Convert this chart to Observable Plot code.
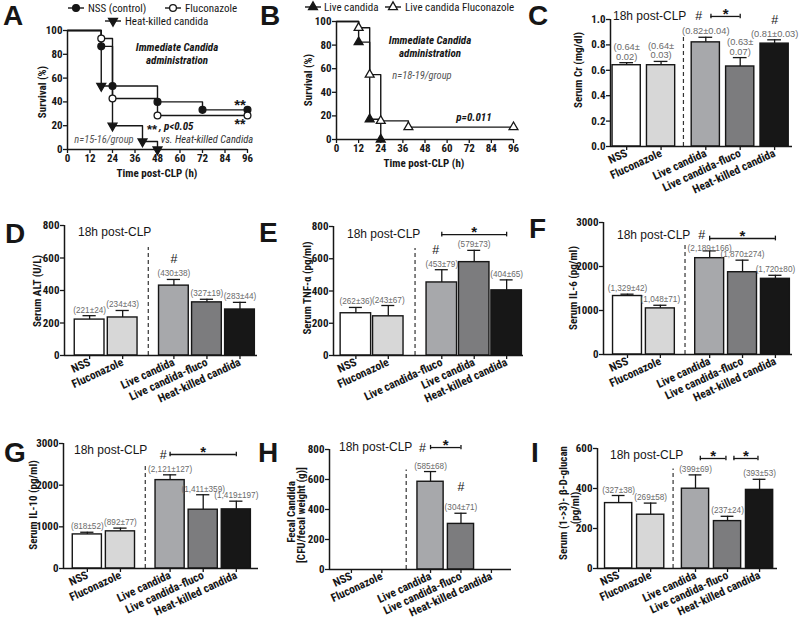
<!DOCTYPE html>
<html><head><meta charset="utf-8">
<script src="https://cdn.jsdelivr.net/npm/d3@7"></script>
<script src="https://cdn.jsdelivr.net/npm/@observablehq/plot@0.6"></script>
<style>
body{margin:0;background:#fff;}
#fig{position:relative;width:800px;height:628px;overflow:hidden;background:#fff;}
</style></head><body><div id="fig"></div><script>
// ================= DATA =================
// Kaplan-Meier panels
const kmTimeTicks = [0, 12, 24, 36, 48, 60, 72, 84, 96];
const kmSurvTicks = [0, 20, 40, 60, 80, 100];
const aSeries = ["NSS (control)", "Fluconazole", "Heat-killed candida"];
const aNssTime = [0, 18, 24, 48, 72, 96];
const aNssSurv = [100, 86.7, 53.3, 40, 33.3, 33.3];
const aFluTime = [0, 18, 24, 48, 96];
const aFluSurv = [100, 93.3, 42.9, 28.6, 28.6];
const aHkTime = [0, 18, 24, 40, 48];
const aHkSurv = [100, 53.3, 20, 6.7, 0];
const bSeries = ["Live candida", "Live candida Fluconazole"];
const bLiveTime = [0, 12, 18, 24];
const bLiveSurv = [100, 82.5, 17.2, 0];
const bFluTime = [0, 12, 18, 24, 39, 96];
const bFluSurv = [100, 94.7, 55, 15.8, 10.5, 10.5];

// Bar panels (mean, SEM)
const groups = ["NSS", "Fluconazole", "Live candida", "Live candida-fluco", "Heat-killed candida"];
const groupsE = ["NSS", "Fluconazole", "Live candida-fluco", "Live candida", "Heat-killed candida"];
const crMean = [0.64, 0.64, 0.82, 0.63, 0.81];
const crSem = [0.02, 0.03, 0.04, 0.07, 0.03];
const altMean = [221, 234, 430, 327, 283];
const altSem = [24, 43, 38, 19, 44];
const tnfMean = [262, 243, 453, 579, 404];
const tnfSem = [36, 67, 79, 73, 65];
const il6Mean = [1329, 1048, 2189, 1870, 1720];
const il6Sem = [42, 71, 166, 274, 80];
const il10Mean = [818, 892, 2121, 1411, 1419];
const il10Sem = [52, 77, 127, 359, 197];
const fecalMean = [0, 0, 585, 304, 0];
const fecalSem = [0, 0, 68, 71, 0];
const glucanMean = [327, 269, 399, 237, 393];
const glucanSem = [38, 58, 69, 24, 53];
const crTicks = [0, 0.2, 0.4, 0.6, 0.8, 1.0];
const t800 = [0, 200, 400, 600, 800];
const t3000 = [0, 1000, 2000, 3000];
const t600 = [0, 200, 400, 600];

// ================= STYLE =================
const FP = "'Roboto Condensed', 'Liberation Sans', sans-serif";
const FA = "'Liberation Sans', Arial, sans-serif";
const INK = "#161616";
const barFills = ["#ffffff", "#d7d7d7", "#a7a8ab", "#7c7c7e", "#171717"];
const s3 = Math.sqrt(3);
const triDown = {draw(ctx, size) { const y = -Math.sqrt(size / (s3 * 3)); ctx.moveTo(0, -2 * y); ctx.lineTo(-s3 * y, y); ctx.lineTo(s3 * y, y); ctx.closePath(); }};
const baseStyle = {fontFamily: FP, fontSize: "11px", fontWeight: "bold", color: INK, overflow: "visible", background: "transparent"};
const fig = document.getElementById("fig");
function place(svg, left, top) {
  svg.style.position = "absolute"; svg.style.left = left + "px"; svg.style.top = top + "px";
  fig.appendChild(svg);
}

// ================= KM PANELS =================
function kmPanel(c) {
  const rows = c.series.flatMap(s => s.time.map((t, i) => ({g: s.name, t, s: s.surv[i]})));
  const marks = [
    Plot.line(rows, {x: "t", y: "s", z: "g", curve: "step-after", stroke: INK, strokeWidth: 1.4}),
    ...c.series.map(s => Plot.dot(rows.filter(d => d.g === s.name && d.t > 0),
      {x: "t", y: "s", symbol: s.symbol, r: s.r, fill: s.fill, stroke: INK, strokeWidth: 1.3})),
    Plot.ruleX([0], {stroke: INK, strokeWidth: 1.5}),
    Plot.ruleY([0], {stroke: INK, strokeWidth: 1.5}),
    Plot.axisX({ticks: kmTimeTicks, tickFormat: d => String(d), tickSize: 4, tickPadding: 1, label: null, strokeWidth: 1.3, fontSize: 11}),
    Plot.axisY({ticks: kmSurvTicks, tickFormat: d => String(d), tickSize: 4, tickPadding: 1, label: null, strokeWidth: 1.3, fontSize: 11})
  ];
  const svg = Plot.plot({width: c.w, height: c.h, marginLeft: c.mL, marginRight: c.mR, marginTop: c.mT, marginBottom: c.mB,
    x: {domain: [0, 96]}, y: {domain: [0, 100]}, style: baseStyle, marks});
  place(svg, c.left, c.top);
}
kmPanel({left: 0, top: 0, w: 265, h: 200, mL: 67, mR: 18, mT: 30, mB: 51, series: [
  {name: aSeries[0], time: aNssTime, surv: aNssSurv, symbol: "circle", r: 3.4, fill: INK},
  {name: aSeries[1], time: aFluTime, surv: aFluSurv, symbol: "circle", r: 3.4, fill: "white"},
  {name: aSeries[2], time: aHkTime, surv: aHkSurv, symbol: triDown, r: 3.3, fill: INK}]});
kmPanel({left: 265, top: 0, w: 265, h: 200, mL: 71, mR: 17, mT: 21, mB: 61, series: [
  {name: bSeries[0], time: bLiveTime, surv: bLiveSurv, symbol: "triangle", r: 3.3, fill: INK},
  {name: bSeries[1], time: bFluTime, surv: bFluSurv, symbol: "triangle", r: 3.3, fill: "white"}]});

// ================= BAR PANELS =================
function barPanel(c) {
  const gap = c.gap, pos = c.cats.map((_, i) => i + (i >= 2 ? gap : 0));
  const lo = -c.padL, hi = 4 + gap + c.padR, half = c.bw / 2, cap = 0.2;
  const f = d3.format(c.fmt || ",");
  const rows = c.cats.map((cat, i) => {
    const a = f(c.mean[i]), b = f(c.sem[i]);
    const lab = (c.wrap || []).includes(i) ? `(${a}±\n${b})` : `(${a}±${b})`;
    return {cat, i, x: pos[i], v: c.mean[i], e: c.sem[i], top: c.mean[i] + c.sem[i], lab};
  });
  const shown = rows.filter(d => d.v > 0);
  const nameAt = new Map(pos.map((p, i) => [p, c.cats[i]]));
  const tk = c.ymax * 0.018;
  const labDy = c.labDy || [];
  const marks = [
    Plot.ruleX([(pos[1] + pos[2]) / 2], {y1: 0, y2: c.ymax * (c.dash || 0.83), stroke: "#333", strokeWidth: 1.2, strokeDasharray: "4,3"}),
    Plot.ruleX(shown, {x: "x", y1: "v", y2: "top", stroke: INK, strokeWidth: 1.3}),
    Plot.ruleY(shown, {y: "top", x1: d => d.x - cap, x2: d => d.x + cap, stroke: INK, strokeWidth: 1.3}),
    Plot.rectY(shown, {x1: d => d.x - half, x2: d => d.x + half, y1: 0, y2: "v", fill: d => barFills[d.i], stroke: INK, strokeWidth: 1.4}),
    Plot.text(shown, {x: "x", y: d => d.top, text: "lab", dy: -3, lineAnchor: "bottom", fontFamily: FA, fontWeight: "normal", fontSize: c.labSize || 8.2, fill: "#6a6a6a",
      filter: d => !labDy.includes(d.i)}),
    Plot.text(shown, {x: "x", y: d => d.top, text: "lab", dy: 0, lineAnchor: "bottom", fontFamily: FA, fontWeight: "normal", fontSize: c.labSize || 8.2, fill: "#6a6a6a",
      filter: d => labDy.includes(d.i)}),
    Plot.ruleX([lo], {stroke: INK, strokeWidth: 1.5}),
    Plot.ruleY([0], {stroke: INK, strokeWidth: 1.5}),
    Plot.axisY({ticks: c.ticks, tickFormat: c.tfmt ? d3.format(c.tfmt) : d => String(d), tickSize: 4, tickPadding: 1, label: null, strokeWidth: 1.3, fontSize: 11}),
    Plot.axisX({ticks: pos, tickFormat: d => nameAt.get(d), tickRotate: -25, tickSize: 4, tickPadding: 2, label: null, strokeWidth: 1.3, fontSize: 11.5})
  ];
  for (const s of c.sig || []) {
    if (s.type === "bracket") {
      const x1 = pos[s.a] + (s.ia || 0), x2 = pos[s.b] - (s.ib || 0);
      marks.push(
        Plot.ruleY([s.y], {x1, x2, stroke: INK, strokeWidth: 1.3}),
        Plot.ruleX([x1, x2], {x: d => d, y1: s.y - tk, y2: s.y + tk, stroke: INK, strokeWidth: 1.3}),
        Plot.text(["*"], {x: (x1 + x2) / 2, y: s.y, text: d => d, dy: -2, lineAnchor: "middle", fontFamily: FA, fontWeight: "bold", fontSize: 15, fill: INK}));
    } else if (s.type === "hash") {
      marks.push(Plot.text(["#"], {x: pos[s.at], y: s.y, text: d => d, dx: s.dx || 0, dy: s.hdy || 0, lineAnchor: "middle", fontFamily: FA, fontWeight: "normal", fontSize: 12.5, fill: INK}));
    } else if (s.type === "hashAbove") {
      marks.push(Plot.text([rows[s.at]], {x: "x", y: "top", text: () => "#", dx: s.dx || 0, dy: s.dy || -16, lineAnchor: "bottom", fontFamily: FA, fontWeight: "normal", fontSize: 12.5, fill: INK}));
    }
  }
  const svg = Plot.plot({width: c.w, height: c.h, marginLeft: c.mL, marginRight: c.mR, marginTop: c.mT, marginBottom: c.mB,
    x: {domain: [lo, hi]}, y: {domain: [0, c.ymax]}, color: {type: "identity"}, style: baseStyle, marks});
  place(svg, c.left, c.top);
}

barPanel({left: 530, top: 0, w: 270, h: 200, mL: 80, mR: 8, mT: 19, mB: 54, gap: 0.3, padL: 0.47, padR: 0.52, bw: 0.82,
  cats: groups, mean: crMean, sem: crSem, ymax: 1, ticks: crTicks, tfmt: ".1f", fmt: ".2f", wrap: [0, 1, 3], labSize: 9.3, dash: 0.87,
  sig: [{type: "bracket", a: 2, b: 3, y: 1.024, ia: 0.15, ib: 0}, {type: "hash", at: 2, y: 1.024, dx: -7}, {type: "hashAbove", at: 4}]});
barPanel({left: 0, top: 200, w: 265, h: 215, mL: 64, mR: 8, mT: 25, mB: 60, gap: 0.55, padL: 0.76, padR: 0.53, bw: 0.9,
  cats: groups, mean: altMean, sem: altSem, ymax: 800, ticks: t800,
  sig: [{type: "hashAbove", at: 2}]});
barPanel({left: 265, top: 200, w: 265, h: 215, mL: 68, mR: 7, mT: 26, mB: 60, gap: 0.65, padL: 0.69, padR: 0.52, bw: 0.94,
  cats: groupsE, mean: tnfMean, sem: tnfSem, ymax: 800, ticks: t800,
  sig: [{type: "bracket", a: 2, b: 4, y: 750}, {type: "hashAbove", at: 2, dx: -6}]});
barPanel({left: 530, top: 200, w: 270, h: 215, mL: 73, mR: 8, mT: 22, mB: 61, gap: 0.5, padL: 0.73, padR: 0.52, bw: 0.88,
  cats: groups, mean: il6Mean, sem: il6Sem, ymax: 3000, ticks: t3000, labDy: [2],
  sig: [{type: "bracket", a: 2, b: 4, y: 2636}, {type: "hash", at: 2, y: 2636, dx: -8, hdy: -4}]});
barPanel({left: 0, top: 415, w: 265, h: 213, mL: 63, mR: 7, mT: 28, mB: 60, gap: 0.5, padL: 0.72, padR: 0.67, bw: 0.88,
  cats: groups, mean: il10Mean, sem: il10Sem, ymax: 3000, ticks: t3000,
  sig: [{type: "bracket", a: 2, b: 4, y: 2736}, {type: "hash", at: 2, y: 2736, dx: -7}]});
barPanel({left: 265, top: 415, w: 265, h: 213, mL: 64, mR: 19, mT: 34, mB: 59, gap: 0.6, padL: 0.72, padR: 0.66, bw: 0.86,
  cats: groups, mean: fecalMean, sem: fecalSem, ymax: 800, ticks: t800,
  sig: [{type: "bracket", a: 2, b: 3, y: 813}, {type: "hash", at: 2, y: 813, dx: -8}, {type: "hashAbove", at: 3, dy: -22}]});
barPanel({left: 530, top: 415, w: 270, h: 213, mL: 67, mR: 23, mT: 33, mB: 60, gap: 0.4, padL: 0.66, padR: 0.56, bw: 0.85,
  cats: groups, mean: glucanMean, sem: glucanSem, ymax: 600, ticks: t600,
  sig: [{type: "bracket", a: 2, b: 3, y: 550, ia: 0.15, ib: 0.05}, {type: "bracket", a: 3, b: 4, y: 550, ia: 0.2, ib: 0.05}]});

// ================= TEXT OVERLAY =================
const ov = d3.select(fig).append("svg").attr("width", 800).attr("height", 628)
  .style("position", "absolute").style("left", "0px").style("top", "0px").style("pointer-events", "none");
function T(x, y, s, o = {}) {
  const t = ov.append("text").attr("x", x).attr("y", y).text(s)
    .attr("font-family", o.family || FP).attr("font-size", o.size || 11).attr("font-weight", o.weight || "normal")
    .attr("font-style", o.style || "normal").attr("fill", o.fill || INK).attr("text-anchor", o.anchor || "start")
    .attr("dominant-baseline", o.base || "auto");
  if (o.rotate) t.attr("transform", `rotate(${o.rotate},${x},${y})`);
  return t;
}
// panel letters
[["A", 3, 25], ["B", 260, 25], ["C", 528, 25], ["D", 5, 243], ["E", 259, 242], ["F", 529, 238], ["G", 4, 462], ["H", 258, 462], ["I", 531, 462]]
  .forEach(([l, x, y]) => T(x, y, l, {family: FA, size: 28, weight: "bold"}));

// legends
function legendItem(x0, x1, y, sym, fill, label, tx) {
  ov.append("line").attr("x1", x0).attr("x2", x1).attr("y1", y).attr("y2", y).attr("stroke", INK).attr("stroke-width", 1.4);
  ov.append("path").attr("d", d3.symbol(sym, sym === d3.symbolCircle ? 36 : 34)()).attr("transform", `translate(${(x0 + x1) / 2},${y})`)
    .attr("fill", fill).attr("stroke", INK).attr("stroke-width", 1.3);
  T(tx, y, label, {size: 11, base: "central"});
}
legendItem(68, 84, 8, d3.symbolCircle, INK, aSeries[0], 88);
legendItem(165, 181, 8, d3.symbolCircle, "white", aSeries[1], 185);
legendItem(105, 121, 21, triDown, INK, aSeries[2], 125);
legendItem(305, 321, 7, d3.symbolTriangle, INK, bSeries[0], 324);
legendItem(385, 401, 7, d3.symbolTriangle, "white", bSeries[1], 405);

// KM annotations
T(177, 51, "Immediate Candida", {weight: "bold", style: "italic", anchor: "middle"});
T(177, 64, "administration", {weight: "bold", style: "italic", anchor: "middle"});
T(240, 110, "**", {family: FA, size: 15, weight: "bold", anchor: "middle"});
T(240, 129, "**", {family: FA, size: 14, weight: "bold", anchor: "middle"});
T(152, 134, "**", {family: FA, size: 13, weight: "bold", anchor: "middle"});
T(159, 130, ", p<0.05", {weight: "bold", style: "italic", size: 11});
T(104, 143, "n=15-16/group", {style: "italic", size: 10.5, fill: "#555", anchor: "middle"});
T(207, 143, "vs. Heat-killed Candida", {style: "italic", size: 10.5, fill: "#333", anchor: "middle"});
T(430, 44, "Immediate Candida", {weight: "bold", style: "italic", anchor: "middle"});
T(430, 57, "administration", {weight: "bold", style: "italic", anchor: "middle"});
T(422, 79, "n=18-19/group", {style: "italic", size: 10.5, fill: "#555", anchor: "middle"});
T(474, 121, "p=0.011", {weight: "bold", style: "italic", anchor: "middle"});

// axis titles
T(157, 173, "Time post-CLP (h)", {weight: "bold", anchor: "middle", base: "central"});
T(424, 163, "Time post-CLP (h)", {weight: "bold", anchor: "middle", base: "central"});
const yt = [["Survival (%)", 42, 92], ["Survival (%)", 308, 80], ["Serum Cr (mg/dl)", 578, 70],
  ["Serum ALT (U/L)", 37, 291], ["Serum TNF-α (pg/ml)", 307, 288], ["Serum IL-6 (pg/ml)", 573, 288],
  ["Serum IL-10 (pg/ml)", 33, 505], ["Fecal Candida", 291, 512], ["[CFU/fecal weight (g)]", 301, 515],
  ["Serum (1->3)- β-D-glucan", 563, 503], ["(pg/ml)", 575, 508]];
yt.forEach(([s, x, y]) => T(x, y, s, {weight: "bold", anchor: "middle", base: "central", rotate: -90}));

// "18h post-CLP" headers
[[613, 16], [78, 232], [347, 234], [617, 235], [74, 450], [339, 447], [610, 455]]
  .forEach(([x, y]) => T(x, y, "18h post-CLP", {family: FA, size: 12, base: "central"}));
</script></body></html>
